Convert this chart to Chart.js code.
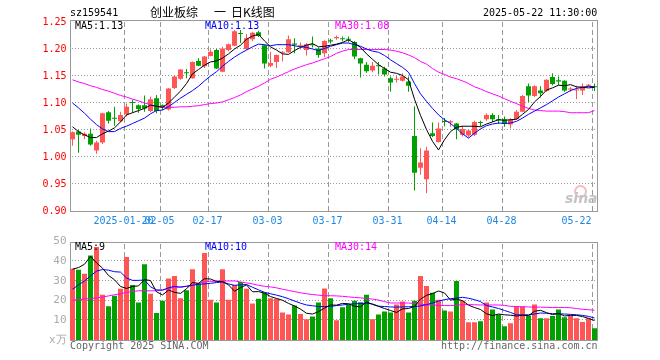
<!DOCTYPE html>
<html><head><meta charset="utf-8">
<script src="https://cdn.jsdelivr.net/npm/chart.js@4.4.1/dist/chart.umd.min.js"></script>
<style>
html,body{margin:0;padding:0;background:#fff;}
#wrap{position:relative;width:660px;height:360px;overflow:hidden;background:#fff;}
canvas{position:absolute;left:0;}
.t{position:absolute;font-family:'DejaVu Sans Mono',monospace;font-size:10px;line-height:12px;white-space:pre;}
.c{position:absolute;font-family:'Noto Sans CJK SC',sans-serif;font-size:12px;line-height:14px;white-space:pre;color:#000;}
</style></head><body>
<div id="wrap">
<canvas id="kc" width="660" height="232" style="top:0"></canvas>
<canvas id="vc" width="660" height="128" style="top:232px"></canvas>
<div class="t" style="left:70px;top:7px;color:#000">sz159541</div>
<div><span class="c" style="left:150px;top:5px">创业板综 </span><span class="c" style="left:214px;top:5px">一 </span><span class="c" style="left:231px;top:5px">日K线图</span></div>
<div class="t" style="left:483px;top:7px;color:#000">2025-05-22 11:30:00</div>
<div class="t" style="left:75px;top:20px;color:#000">MA5:1.13</div>
<div class="t" style="left:205px;top:20px;color:#0000ff">MA10:1.13</div>
<div class="t" style="left:335px;top:20px;color:#ff00ff">MA30:1.08</div>
<div class="t" style="left:75px;top:241px;color:#000">MA5:9</div>
<div class="t" style="left:205px;top:241px;color:#0000ff">MA10:10</div>
<div class="t" style="left:335px;top:241px;color:#ff00ff">MA30:14</div>
<div class="t" style="left:70px;top:340px;color:#666">Copyright 2025 SINA.COM</div>
<div class="t" style="left:441px;top:340px;color:#666">http://finance.sina.com.cn</div>
<div style="position:absolute;left:574px;top:185px;width:9px;height:9px;border:2px solid #f4bcbc;border-radius:50%;"></div>
<div style="position:absolute;left:565px;top:190px;font:italic bold 14px 'DejaVu Sans',sans-serif;line-height:16px;color:#c4c4c4;">sina</div>
</div>
<script>
const dates = ['2025-01-07','2025-01-08','2025-01-09','2025-01-10','2025-01-13','2025-01-14','2025-01-15','2025-01-16','2025-01-17','2025-01-20','2025-01-21','2025-01-22','2025-01-23','2025-01-24','2025-01-27',
'2025-02-05','2025-02-06','2025-02-07','2025-02-10','2025-02-11','2025-02-12','2025-02-13','2025-02-14','2025-02-17','2025-02-18','2025-02-19','2025-02-20','2025-02-21','2025-02-24','2025-02-25','2025-02-26','2025-02-27','2025-02-28',
'2025-03-03','2025-03-04','2025-03-05','2025-03-06','2025-03-07','2025-03-10','2025-03-11','2025-03-12','2025-03-13','2025-03-14','2025-03-17','2025-03-18','2025-03-19','2025-03-20','2025-03-21','2025-03-24','2025-03-25','2025-03-26','2025-03-27','2025-03-28','2025-03-31',
'2025-04-01','2025-04-02','2025-04-03','2025-04-07','2025-04-08','2025-04-09','2025-04-10','2025-04-11','2025-04-14','2025-04-15','2025-04-16','2025-04-17','2025-04-18','2025-04-21','2025-04-22','2025-04-23','2025-04-24','2025-04-25','2025-04-28','2025-04-29','2025-04-30',
'2025-05-06','2025-05-07','2025-05-08','2025-05-09','2025-05-12','2025-05-13','2025-05-14','2025-05-15','2025-05-16','2025-05-19','2025-05-20','2025-05-21','2025-05-22'];

const openP = [1.033,1.047,1.039,1.043,1.012,1.027,1.083,1.072,1.066,1.079,1.102,1.096,1.096,1.085,1.109,1.096,1.088,1.128,1.145,1.156,1.146,1.178,1.168,1.187,1.198,1.158,1.198,1.206,1.229,1.200,1.218,1.231,1.207,1.169,1.176,1.193,1.194,1.210,1.205,1.198,1.209,1.201,1.192,1.216,1.220,1.220,1.219,1.213,1.183,1.171,1.160,1.170,1.164,1.146,1.143,1.141,1.140,1.039,0.980,0.959,1.044,1.028,1.066,1.064,1.062,1.041,1.040,1.041,1.064,1.070,1.078,1.069,1.070,1.060,1.070,1.084,1.131,1.113,1.123,1.122,1.148,1.142,1.141,1.125,1.123,1.123,1.132,1.130];
const highP = [1.047,1.050,1.046,1.053,1.030,1.082,1.085,1.093,1.084,1.099,1.106,1.097,1.114,1.112,1.115,1.097,1.128,1.150,1.163,1.163,1.177,1.183,1.187,1.199,1.200,1.204,1.210,1.235,1.235,1.228,1.232,1.234,1.208,1.195,1.190,1.196,1.225,1.220,1.212,1.211,1.223,1.203,1.216,1.219,1.225,1.223,1.223,1.215,1.184,1.176,1.176,1.176,1.167,1.149,1.150,1.155,1.149,1.094,1.016,1.019,1.064,1.064,1.072,1.068,1.063,1.058,1.050,1.067,1.067,1.081,1.081,1.078,1.075,1.072,1.087,1.115,1.136,1.133,1.131,1.144,1.155,1.149,1.142,1.129,1.132,1.136,1.135,1.136];
const lowP = [1.021,1.008,1.033,1.021,1.006,1.024,1.062,1.058,1.064,1.075,1.082,1.082,1.084,1.083,1.081,1.087,1.086,1.126,1.143,1.146,1.145,1.168,1.165,1.186,1.163,1.157,1.196,1.205,1.211,1.198,1.215,1.222,1.164,1.166,1.165,1.177,1.193,1.192,1.199,1.188,1.203,1.184,1.185,1.210,1.217,1.214,1.212,1.181,1.147,1.156,1.157,1.153,1.149,1.121,1.138,1.140,1.121,0.938,0.967,0.933,1.037,1.027,1.057,1.056,1.033,1.038,1.036,1.039,1.057,1.067,1.065,1.061,1.056,1.053,1.069,1.083,1.102,1.111,1.110,1.121,1.133,1.133,1.121,1.121,1.107,1.115,1.130,1.122];
const closeP = [1.046,1.041,1.043,1.023,1.027,1.081,1.067,1.071,1.078,1.093,1.100,1.089,1.090,1.107,1.085,1.092,1.127,1.149,1.162,1.155,1.176,1.169,1.186,1.195,1.164,1.201,1.209,1.233,1.228,1.220,1.230,1.224,1.173,1.174,1.189,1.195,1.218,1.208,1.207,1.209,1.207,1.189,1.215,1.214,1.222,1.218,1.217,1.186,1.173,1.159,1.169,1.168,1.153,1.138,1.145,1.149,1.132,0.971,0.990,1.012,1.039,1.053,1.065,1.066,1.051,1.052,1.049,1.065,1.063,1.078,1.070,1.068,1.061,1.069,1.084,1.113,1.114,1.131,1.118,1.143,1.135,1.140,1.123,1.127,1.125,1.131,1.133,1.129];

const ma5 = [1.056,1.047,1.041,1.036,1.036,1.043,1.048,1.054,1.065,1.078,1.082,1.086,1.090,1.096,1.094,1.092,1.100,1.111,1.122,1.136,1.154,1.162,1.170,1.176,1.178,1.183,1.191,1.200,1.207,1.218,1.224,1.227,1.215,1.204,1.198,1.191,1.190,1.197,1.203,1.207,1.210,1.204,1.205,1.207,1.209,1.212,1.217,1.211,1.203,1.191,1.181,1.171,1.164,1.157,1.155,1.151,1.143,1.107,1.077,1.051,1.029,1.013,1.032,1.047,1.055,1.057,1.057,1.057,1.056,1.061,1.065,1.069,1.068,1.069,1.070,1.079,1.088,1.102,1.112,1.124,1.128,1.133,1.132,1.134,1.130,1.129,1.128,1.129];
const ma10 = [1.100,1.091,1.081,1.070,1.060,1.052,1.047,1.047,1.053,1.057,1.062,1.067,1.072,1.080,1.086,1.087,1.093,1.101,1.109,1.116,1.123,1.131,1.141,1.150,1.158,1.168,1.177,1.185,1.192,1.198,1.204,1.209,1.208,1.206,1.208,1.208,1.208,1.206,1.204,1.203,1.200,1.197,1.201,1.205,1.208,1.211,1.211,1.208,1.205,1.200,1.196,1.194,1.188,1.180,1.173,1.166,1.157,1.136,1.117,1.103,1.090,1.078,1.069,1.062,1.053,1.043,1.035,1.044,1.052,1.058,1.061,1.063,1.062,1.063,1.066,1.072,1.079,1.085,1.091,1.097,1.104,1.111,1.117,1.123,1.127,1.129,1.131,1.130];
const ma30 = [1.143,1.139,1.136,1.132,1.129,1.125,1.122,1.118,1.114,1.111,1.107,1.104,1.100,1.097,1.093,1.092,1.092,1.092,1.093,1.093,1.094,1.095,1.097,1.099,1.100,1.102,1.106,1.110,1.115,1.121,1.126,1.131,1.137,1.144,1.148,1.153,1.158,1.163,1.167,1.171,1.174,1.178,1.182,1.186,1.192,1.196,1.199,1.199,1.199,1.199,1.199,1.199,1.199,1.198,1.196,1.193,1.189,1.184,1.177,1.172,1.164,1.157,1.153,1.148,1.145,1.141,1.136,1.130,1.126,1.121,1.117,1.113,1.108,1.103,1.099,1.094,1.090,1.087,1.086,1.085,1.085,1.085,1.084,1.082,1.082,1.082,1.082,1.086];

const volume = [36.2,35.7,33.7,43,47.2,23,17.2,22.5,26,42.2,28,19,38.5,23.5,13.7,20,31.2,32.5,21.2,25.3,36,28.8,44.2,20.5,19,36,20.5,28,29.5,26,18.5,21,24,21.2,21,14,13,17.5,13.2,10.5,12,19,26.2,21.2,10,16.7,18,20,19.2,23,10.5,13,14.5,14,18,19.5,14,20,32.5,27.5,24,20.5,15,14.5,30,20,9,9,9.5,19,15.5,13,7,8.5,17,17,12.5,18,11,11,12.2,15.5,11.5,12.2,11,9.2,11,6];
const vma5 = [36.0,36.8,38.5,42.5,39.2,36.5,32.8,30.6,27.2,26.2,27.2,27.5,30.7,30.2,24.5,22.9,25.4,24.2,23.7,26.0,29.2,28.8,31.1,31.0,29.7,29.7,28.0,24.8,26.6,28.0,24.5,24.6,23.8,22.1,21.1,20.2,18.6,17.3,15.7,13.6,13.2,14.4,16.2,17.8,17.7,18.6,18.4,17.2,16.8,19.4,18.1,17.1,16.0,15.0,14.0,15.8,16.0,17.1,20.8,22.7,23.6,24.9,23.9,20.3,20.8,20.0,17.7,16.5,15.5,13.3,12.4,13.2,12.8,12.6,12.2,12.5,12.4,14.6,15.1,13.9,12.9,13.5,12.2,12.5,12.5,11.9,11.0,9.9];
const vma10 = [25.8,28,30,32.5,35,35.8,35.5,34.7,34.5,31.5,30.3,30.3,30.5,27,25.5,25.3,26.5,27.3,26.8,27.3,27.8,28.3,28.5,28.8,29.2,29.5,28.5,27.8,28,28.2,26.8,25.5,24.2,23.5,22.8,22,21,19.8,18.7,17.8,17.4,17,17,17,17.5,17.8,18.2,18.4,18.5,18.7,18.3,17.2,17,16.8,16.7,16.8,16.9,17,17.3,18,18.8,19.8,20.5,21,21.3,21.7,21.2,20.5,19.5,17.5,16.8,16,15,14,12.8,12.8,12.8,13.2,13.7,13.6,13.4,13.3,13.2,13,12.8,12.5,12,11.2];
const vma30 = [20.3,20.5,20.8,21.1,21.4,21.8,22.4,23,23.5,24.2,24.6,25,25,25,25,25.5,26.2,26.7,27,27.3,28,28.8,29.5,29.8,30,30,30,30,29.5,29,28.5,27.8,27.3,27,26.5,25.8,25.2,24.6,24,23.5,23.1,22.8,22.5,22.5,22.4,22.2,21.9,21.6,21.4,21.1,20.8,20.3,19.5,18.8,18.8,18.8,18.8,18.5,18.2,17.8,17.8,17.6,17.5,17.5,17.7,17.9,18,17.9,17.8,17.8,17.8,17.8,17.6,17.1,17,16.9,16.8,16.7,16.7,16.6,16.5,16.5,16.5,16.4,16,15.6,15.4,15.1];

const tickDates = ['2025-01-20','2025-02-05','2025-02-17','2025-03-03','2025-03-17','2025-03-31','2025-04-14','2025-04-28','2025-05-22'];
const tickLabels = ['2025-01-20','02-05','02-17','03-03','03-17','03-31','04-14','04-28','05-22'];
const priceTicks = [0.90,0.95,1.00,1.05,1.10,1.15,1.20,1.25];
const volTicks = [0,10,20,30,40,50];

const RED = '#ff5555', GREEN = '#00a000';
const MONO = 'DejaVu Sans Mono';
const colors = closeP.map((c, i) => c >= openP[i] ? RED : GREEN);
const tickPos = tickDates.map(d => dates.indexOf(d));
const pts = arr => arr.map((v, i) => ({x: i + 0.5, y: v}));
const N = dates.length;

function xAxis(showLabels, h) {
  return {
    type: 'linear', min: 0, max: N, offset: false,
    afterBuildTicks: s => { s.ticks = [{value: 0}].concat(tickPos.map(v => ({value: v}))); },
    ticks: {display: showLabels, autoSkip: false, maxRotation: 0, minRotation: 0, align: 'inner', padding: 4,
      color: '#1e88e5', font: {family: MONO, size: 10},
      callback: v => { const k = tickPos.indexOf(v); return k < 0 ? '' : tickLabels[k]; }},
    grid: {display: false, offset: false, drawTicks: false},
    border: {display: false},
    afterFit: s => { s.height = h; }
  };
}
function yAxis(vals, lo, hi, color, size, fmt) {
  return {
    type: 'linear', min: lo, max: hi, beginAtZero: false,
    afterBuildTicks: s => { s.ticks = vals.map(v => ({value: v})); },
    ticks: {autoSkip: false, padding: 3, color: color, font: {family: MONO, size: size}, callback: fmt},
    grid: {display: false, drawTicks: false},
    border: {display: false},
    afterFit: s => { s.width = 69.5; }
  };
}
// frame plus dashed (vertical) / dotted (horizontal) grid lines at pixels from the chart's own scales
const frame = {
  id: 'frame',
  beforeDatasetsDraw(chart, args, o) {
    const ca = chart.chartArea, ctx = chart.ctx, xs = chart.scales.x, ys = chart.scales.y;
    const top = Math.round(ca.top) - o.top, bot = Math.round(ca.bottom);
    const L = Math.round(ca.left), R = Math.floor(ca.right);
    ctx.save();
    ctx.fillStyle = '#999999';
    for (const v of tickPos) {
      const px = Math.round(xs.getPixelForValue(v));
      for (let y = top + 2; y < bot; y += 8) ctx.fillRect(px, y, 1, Math.min(5, bot - y));
    }
    for (const t of ys.ticks) {
      if (t.value <= ys.min || t.value >= ys.max) continue;
      const py = Math.round(ys.getPixelForValue(t.value)) - 1;
      for (let x = L + 2; x < R; x += 3) ctx.fillRect(x, py, 1, 1);
    }
    ctx.fillRect(L, top, R - L + 1, 1);
    ctx.fillRect(L, bot, R - L + 1, 1);
    ctx.fillRect(L, top, 1, bot - top + 1);
    ctx.fillRect(R, top, 1, bot - top + 1);
    ctx.restore();
  }
};
const line = (arr, color) => ({type: 'line', data: pts(arr), borderColor: color, borderWidth: 1, pointRadius: 0, tension: 0, fill: false, order: 0});
const common = {responsive: false, animation: false, devicePixelRatio: 1,
  events: [], plugins: {legend: {display: false}, tooltip: {enabled: false}}};

new Chart(document.getElementById('kc'), {
  type: 'bar',
  data: {datasets: [
    line(ma5, '#000000'), line(ma10, '#0000ff'), line(ma30, '#ff00ff'),
    {type: 'bar', data: openP.map((o, i) => ({x: i + 0.5, y: [o, closeP[i]]})), backgroundColor: colors,
      grouped: false, barThickness: 5, maxBarThickness: 5, minBarLength: 1, borderWidth: 0, inflateAmount: 0, order: 5},
    {type: 'bar', data: lowP.map((l, i) => ({x: i + 0.5, y: [l, highP[i]]})), backgroundColor: colors,
      grouped: false, barThickness: 1, maxBarThickness: 1, borderWidth: 0, inflateAmount: 0, order: 6}
  ]},
  options: Object.assign({}, common, {
    layout: {padding: {left: 0, right: 62.5, top: 22, bottom: 0}},
    scales: {
      x: xAxis(true, 21),
      y: yAxis(priceTicks, 0.90, 1.25, '#ff0000', 10, v => v.toFixed(2))
    },
    plugins: Object.assign({}, common.plugins, {frame: {top: 2}})
  }),
  plugins: [frame]
});

new Chart(document.getElementById('vc'), {
  type: 'bar',
  data: {datasets: [
    line(vma5, '#000000'), line(vma10, '#0000ff'), line(vma30, '#ff00ff'),
    {type: 'bar', data: pts(volume), backgroundColor: colors, grouped: false, barThickness: 5, maxBarThickness: 5,
      borderWidth: 0, inflateAmount: 0, order: 5}
  ]},
  options: Object.assign({}, common, {
    layout: {padding: {left: 0, right: 62.5, top: 8, bottom: 0}},
    scales: {
      x: xAxis(false, 20),
      y: yAxis(volTicks, 0, 50, '#aaaaaa', 11, v => v === 0 ? 'x万' : String(v))
    },
    plugins: Object.assign({}, common.plugins, {frame: {top: 0}})
  }),
  plugins: [frame]
});
</script>
</body></html>
